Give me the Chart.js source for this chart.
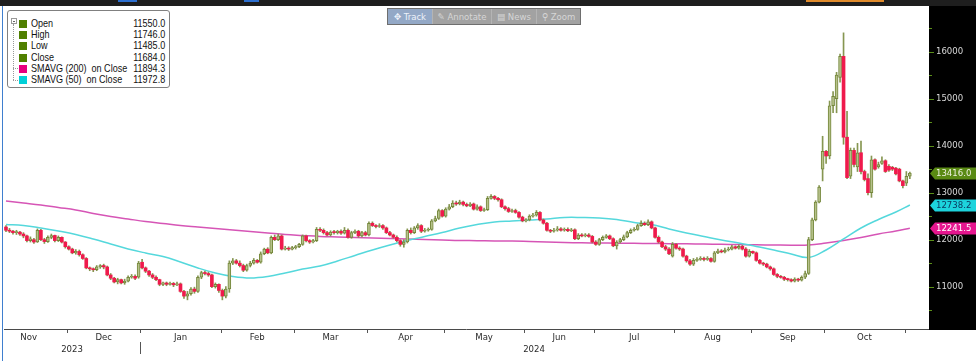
<!DOCTYPE html>
<html><head><meta charset="utf-8">
<script src="https://cdn.jsdelivr.net/npm/chart.js@4.4.1/dist/chart.umd.min.js"></script>
<style>
html,body{margin:0;padding:0;background:#fff;}
#wrap{position:relative;width:976px;height:361px;overflow:hidden;font-family:'Liberation Sans',Arial,sans-serif;}
#c{position:absolute;left:0;top:0;}
#topbar{position:absolute;left:0;top:0;width:976px;height:6px;background:#1e1e1e;}
.mk{position:absolute;top:0;height:2px;}
#tb{position:absolute;left:387px;top:8px;height:15px;display:flex;border:1px solid #6e6e6e;background:#a2a2a2;}
#tb span{display:block;font-family:'DejaVu Sans Condensed',sans-serif;font-size:9.5px;line-height:15px;color:#d6d6d6;text-align:center;border-right:1px solid #b4b4b4;white-space:nowrap;}
#tb span.on{background:#93a8c6;color:#eef2fa;}
#lg{position:absolute;left:7px;top:10px;width:163px;height:78px;border:1px solid #808080;border-radius:3px;background:#fff;box-sizing:border-box;}
#lg .row{position:absolute;left:0;width:161px;height:11px;font-size:10.5px;line-height:11px;color:#111;white-space:pre;}
#lg .sq{position:absolute;left:11px;top:2px;width:8px;height:8px;}
#lg .lb{position:absolute;left:23px;top:0;transform:scaleX(0.86);transform-origin:left center;}
#lg .vl{position:absolute;right:4px;top:0;transform:scaleX(0.86);transform-origin:right center;}
#lg .tbox{position:absolute;left:3px;top:7px;width:4px;height:4px;border:1px solid #999;background:#fff;}
#lg .tbox:after{content:'';position:absolute;left:1px;top:2px;width:2px;height:1px;background:#666;}
#lg .tv{position:absolute;left:5px;top:13px;width:0;height:56px;border-left:1px dotted #999;}
#lg .th{position:absolute;left:5px;width:5px;height:0;border-top:1px dotted #999;}
</style>
</head><body>
<div id="wrap">
<canvas id="c" width="976" height="361"></canvas>
<div id="topbar"></div>
<div class="mk" style="left:118px;width:19px;background:#2c6fd0"></div>
<div class="mk" style="left:244px;width:15px;background:#2c6fd0"></div>
<div class="mk" style="left:806px;width:78px;background:#e08a2a"></div>
<div id="tb"><span class="on" style="width:44px">✥ Track</span><span style="width:58px">✎ Annotate</span><span style="width:44px">▤ News</span><span style="width:43px;border-right:none">⚲ Zoom</span></div>
<div id="lg"></div>
</div>
<script>
// ---------- DATA ----------
const monthNames = ['Nov','Dec','Jan','Feb','Mar','Apr','May','Jun','Jul','Aug','Sep','Oct'];
const monthStarts = [-4,18,39,62,83,104,126,149,169,192,214,235,258]; // trading-day index of first day of each month
const yearNames = ['2023','2024'];
const yTickLabels = [11000,12000,13000,14000,15000,16000];

const opens = [
12270,12200,12180,12150,12160,12120,12080,11980,12000,11950,
12200,12000,11960,12050,12090,11980,12050,11950,11850,11800,
11720,11750,11680,11600,11400,11380,11360,11420,11450,11420,
11250,11180,11100,11150,11080,11120,11200,11220,11200,11520,
11400,11330,11250,11200,11150,11050,11080,11050,11070,11040,
11060,10900,10800,10850,10950,10900,11200,11300,11280,11250,
11000,11050,10920,10800,10950,11500,11550,11500,11450,11350,
11450,11500,11560,11520,11700,11800,11720,12050,12000,12080,
11800,11820,11800,11830,11850,11900,12080,11980,11950,11980,
12220,12200,12150,12100,12160,12150,12180,12140,12200,12050,
12150,12180,12080,12150,12100,12350,12300,12280,12300,12250,
12150,12100,12050,11980,11900,11950,12200,12150,12250,12300,
12180,12200,12220,12400,12450,12620,12500,12650,12700,12780,
12760,12800,12750,12720,12760,12650,12700,12620,12640,12880,
12920,12880,12850,12700,12660,12600,12620,12580,12480,12400,
12420,12500,12520,12580,12420,12350,12200,12180,12200,12230,
12200,12220,12190,12210,12020,12100,12080,12100,12070,11950,
11900,12000,12050,12080,12020,11870,11950,12000,12060,12150,
12200,12220,12300,12350,12320,12380,12250,12050,11950,11850,
11800,11650,11900,11820,11800,11650,11550,11480,11560,11580,
11600,11580,11600,11540,11720,11760,11740,11780,11800,11850,
11820,11860,11800,11650,11750,11720,11560,11500,11480,11420,
11380,11260,11220,11200,11160,11150,11120,11160,11140,11200,
11280,12000,12420,12800,13500,13880,13780,14850,15000,15450,
15900,14180,13350,13900,13550,13850,13450,13300,13000,13700,
13550,13620,13680,13560,13540,13520,13500,13250,13200,13350];
const highs = [
12300,12240,12200,12200,12180,12150,12100,12060,12030,12230,
12220,12030,12080,12120,12100,12080,12060,11960,11870,11820,
11790,11780,11700,11620,11420,11400,11450,11470,11480,11440,
11280,11200,11180,11160,11160,11230,11260,11250,11540,11580,
11420,11350,11280,11230,11160,11100,11100,11100,11090,11100,
11080,10920,10900,10980,10990,11230,11330,11330,11310,11270,
11080,11060,10950,11000,11550,11600,11580,11550,11480,11480,
11540,11600,11580,11740,11820,11830,12080,12100,12120,12100,
11860,11850,11860,11880,11920,12100,12100,12000,12010,12260,
12260,12230,12180,12190,12200,12200,12210,12260,12230,12180,
12210,12200,12180,12180,12380,12380,12320,12340,12320,12270,
12180,12120,12080,12000,12000,12230,12250,12280,12340,12320,
12240,12250,12430,12500,12650,12640,12680,12750,12830,12820,
12840,12820,12780,12790,12780,12740,12720,12670,12920,12960,
12940,12900,12870,12720,12690,12650,12650,12600,12500,12450,
12530,12560,12620,12600,12440,12370,12220,12240,12280,12260,
12250,12250,12240,12230,12130,12130,12130,12130,12090,11980,
12030,12080,12110,12100,12040,11980,12030,12100,12180,12230,
12260,12330,12400,12380,12420,12400,12270,12080,11970,11880,
11830,11940,11920,11850,11820,11670,11580,11600,11620,11640,
11630,11640,11620,11750,11800,11790,11820,11840,11880,11870,
11890,11880,11830,11790,11760,11740,11580,11520,11500,11440,
11400,11280,11240,11220,11180,11170,11190,11180,11230,11330,
12050,12460,12830,13150,14200,13900,14950,15150,15560,15950,
16400,14730,13950,13950,14050,14100,13480,13400,13780,13720,
13650,13760,13700,13600,13560,13540,13520,13270,13450,13440];
const lows = [
12170,12150,12120,12110,12090,12040,11950,11950,11920,11940,
11980,11920,11940,12020,11950,11960,11930,11820,11780,11700,
11690,11650,11580,11380,11340,11320,11340,11390,11380,11230,
11150,11080,11060,11060,11050,11100,11180,11150,11180,11380,
11300,11220,11170,11130,11020,11020,11020,11030,11000,11020,
10880,10750,10720,10820,10860,10880,11170,11250,11220,10980,
10970,10880,10720,10760,10880,11470,11480,11420,11320,11330,
11420,11480,11500,11500,11680,11700,11700,11980,11980,11780,
11780,11770,11780,11800,11830,11880,11950,11920,11930,11960,
12170,12120,12080,12080,12120,12120,12110,12120,12030,12030,
12130,12050,12060,12080,12080,12280,12250,12260,12220,12130,
12080,12030,11950,11860,11840,11930,12120,12130,12220,12150,
12160,12180,12200,12380,12430,12480,12480,12630,12680,12730,
12740,12720,12700,12700,12630,12630,12600,12600,12620,12860,
12850,12820,12680,12630,12580,12580,12560,12460,12380,12380,
12400,12480,12500,12400,12330,12180,12150,12160,12180,12180,
12180,12170,12170,12000,12000,12060,12060,12050,11930,11880,
11880,11980,12030,12000,11850,11800,11930,11980,12040,12130,
12180,12200,12280,12300,12300,12230,12030,11930,11830,11770,
11680,11630,11800,11770,11630,11520,11450,11450,11540,11560,
11550,11560,11520,11520,11700,11720,11720,11760,11780,11800,
11800,11780,11630,11630,11700,11540,11480,11450,11400,11350,
11240,11190,11180,11130,11120,11100,11100,11110,11120,11170,
11260,11980,12400,12780,13250,13620,13720,14700,14700,15350,
14030,13300,13300,13550,13450,13400,13250,12950,12900,13480,
13520,13600,13430,13450,13470,13380,13230,13100,13150,13300];
const closes = [
12200,12180,12150,12160,12120,12080,11980,12020,11950,12200,
12000,11960,12050,12090,11980,12050,11950,11850,11800,11720,
11750,11680,11600,11400,11380,11360,11420,11450,11420,11250,
11180,11100,11150,11080,11120,11200,11220,11180,11500,11400,
11330,11250,11200,11150,11050,11080,11050,11070,11040,11060,
10900,10800,10850,10950,10900,11200,11300,11280,11250,11000,
11050,10920,10800,10950,11500,11550,11500,11450,11350,11450,
11500,11560,11520,11700,11800,11720,12050,12000,12080,11800,
11820,11800,11830,11850,11900,12080,11980,11950,11980,12220,
12200,12150,12100,12160,12150,12180,12140,12200,12050,12150,
12180,12080,12150,12100,12350,12300,12280,12300,12250,12150,
12100,12050,11980,11900,11950,12200,12150,12250,12300,12180,
12200,12220,12400,12450,12620,12500,12650,12700,12780,12760,
12800,12750,12720,12760,12650,12700,12620,12640,12880,12920,
12880,12850,12700,12660,12600,12620,12580,12480,12400,12420,
12500,12520,12580,12420,12350,12200,12180,12200,12230,12200,
12220,12190,12210,12020,12100,12080,12100,12070,11950,11900,
12000,12050,12080,12020,11870,11950,12000,12060,12150,12200,
12220,12300,12350,12320,12380,12250,12050,11950,11850,11800,
11700,11900,11820,11800,11650,11550,11480,11560,11580,11600,
11580,11600,11540,11720,11760,11740,11780,11800,11850,11820,
11860,11800,11650,11750,11720,11560,11500,11480,11420,11380,
11260,11220,11200,11160,11150,11120,11160,11140,11200,11280,
12000,12420,12800,13120,13880,13780,14850,15050,15500,15900,
14180,13320,13900,13600,13850,13450,13280,13000,13700,13500,
13600,13680,13450,13480,13500,13400,13250,13150,13350,13416];

// moving averages read every 5th trading day (last = final day)
const smaIdx = [0,5,10,15,20,25,30,35,40,45,50,55,60,65,70,75,80,85,90,95,100,105,110,115,120,125,130,135,140,145,150,155,160,165,170,175,180,185,190,195,200,205,210,215,220,225,230,235,240,245,250,255,259];
const sma200 = [12823,12781,12738,12685,12632,12558,12494,12440,12387,12345,12302,12270,12238,12206,12174,12143,12111,12089,12068,12057,12047,12036,12026,12015,12004,11994,11983,11979,11972,11972,11962,11951,11940,11934,11930,11926,11923,11919,11915,11913,11908,11902,11896,11891,11887,11883,11887,11930,11983,12047,12121,12185,12241.5];
const sma50 = [12323,12302,12249,12185,12111,12015,11908,11802,11717,11642,11525,11398,11291,11217,11185,11217,11291,11376,11440,11546,11664,11781,11887,11983,12068,12153,12249,12323,12377,12398,12419,12440,12472,12472,12462,12430,12366,12323,12228,12143,12068,11994,11930,11855,11781,11696,11621,11781,12015,12249,12430,12589,12738.2];

const legendRows = [
  {label:'Open', value:'11550.0', color:'#4f7f00'},
  {label:'High', value:'11746.0', color:'#4f7f00'},
  {label:'Low', value:'11485.0', color:'#4f7f00'},
  {label:'Close', value:'11684.0', color:'#4f7f00'},
  {label:'SMAVG (200)  on Close', value:'11894.3', color:'#e6007e'},
  {label:'SMAVG (50)  on Close', value:'11972.8', color:'#00d0d8'}
];

// ---------- LEGEND (HTML) ----------
(function(){
  const lg = document.getElementById('lg');
  let h = '<div class="tbox"></div><div class="tv"></div>';
  legendRows.forEach((r,k)=>{
    const top = 7 + k*11.2;
    h += '<div class="row" style="top:'+top+'px"><div class="sq" style="background:'+r.color+'"></div><div class="lb">'+r.label+'</div><div class="vl">'+r.value+'</div></div>';
  });
  h += '<div class="th" style="top:57px"></div><div class="th" style="top:69px"></div>';
  lg.innerHTML = h;
})();

// ---------- CHART ----------
const FONT = "'DejaVu Sans Condensed','DejaVu Sans',sans-serif";
const up = closes.map((c,i)=> c >= opens[i]);
const wickData = closes.map((c,i)=>({x:i, y:[lows[i], highs[i]]}));
const bodyData = closes.map((c,i)=>({x:i, y:[opens[i], c]}));
const s200Data = smaIdx.map((x,k)=>({x:x, y:sma200[k]}));
const s50Data = smaIdx.map((x,k)=>({x:x, y:sma50[k]}));
const monthCenters = monthNames.map((m,k)=> (monthStarts[k] + monthStarts[k+1]) / 2 - 0.5);

const decor = {
  id:'decor',
  beforeDraw(chart){
    const {ctx, chartArea:a, width} = chart;
    ctx.save();
    ctx.fillStyle = '#000';
    ctx.fillRect(a.right + 1, 0, width - a.right - 1, a.bottom + 1);
    ctx.restore();
  },
  afterDraw(chart){
    const {ctx, chartArea:a, width} = chart;
    const xs = chart.scales.x, ys = chart.scales.y;
    ctx.save();
    // left blue frame line
    ctx.fillStyle = '#3f7fcf';
    ctx.fillRect(2, 6, 1, 355);
    // month boundary ticks
    ctx.fillStyle = '#555';
    for (let k = 1; k < monthStarts.length; k++) {
      const px = Math.round(xs.getPixelForValue(monthStarts[k] - 0.5));
      ctx.fillRect(px, Math.round(a.bottom) + 1, 1, 3);
    }
    // year separator + labels
    const janPx = Math.round(xs.getPixelForValue(monthStarts[2] - 0.5));
    ctx.fillRect(janPx, 342, 1, 12);
    ctx.fillStyle = '#2a2a2a';
    ctx.font = '9.5px ' + FONT;
    ctx.textAlign = 'center';
    ctx.textBaseline = 'middle';
    ctx.fillText(yearNames[0], (a.left + janPx) / 2, 350);
    ctx.fillText(yearNames[1], (janPx + a.right) / 2, 350);
    // y-axis tick marks (major + minor)
    ctx.fillStyle = '#5b8f18';
    for (let v = 10500; v <= 16500; v += 500) {
      const py = Math.round(ys.getPixelForValue(v));
      const len = (v % 1000 === 0) ? 5 : 3;
      ctx.fillRect(a.right + 1, py, len, 1);
    }
    // last-value tags
    const tag = (val, bg, fg) => {
      const py = Math.round(ys.getPixelForValue(val)) + 0.5;
      ctx.fillStyle = bg;
      ctx.beginPath();
      ctx.moveTo(a.right + 2, py);
      ctx.lineTo(a.right + 7, py - 6);
      ctx.lineTo(width, py - 6);
      ctx.lineTo(width, py + 6);
      ctx.lineTo(a.right + 7, py + 6);
      ctx.closePath();
      ctx.fill();
      ctx.fillStyle = fg;
      ctx.textAlign = 'left';
      ctx.textBaseline = 'middle';
      ctx.font = '9.5px ' + FONT;
      ctx.fillText(val.toFixed(1), a.right + 8, py + 0.5);
    };
    tag(closes[closes.length - 1], '#5a8a14', '#eef2e0');
    tag(sma50[sma50.length - 1], '#1dd3dc', '#0a3a60');
    tag(sma200[sma200.length - 1], '#e5168f', '#ffffff');
    ctx.restore();
  }
};

new Chart(document.getElementById('c'), {
  type: 'bar',
  data: {
    datasets: [
      {type:'line', label:'SMAVG (200)', data:s200Data, borderColor:'#d655b6', borderWidth:1.5, pointRadius:0, tension:0.4, order:4},
      {type:'line', label:'SMAVG (50)', data:s50Data, borderColor:'#55d8dc', borderWidth:1.5, pointRadius:0, tension:0.4, order:3},
      {type:'bar', label:'Range', data:wickData, backgroundColor:'#869651', barThickness:1, grouped:false, order:2},
      {type:'bar', label:'Body', data:bodyData,
        backgroundColor: up.map(u => u ? '#b6c18b' : '#ef1a4c'),
        borderColor: up.map(u => u ? '#74873a' : '#ef1a4c'),
        borderWidth: up.map(u => u ? 1 : 0),
        borderSkipped:false, barThickness:3, grouped:false, minBarLength:1, order:1}
    ]
  },
  options: {
    responsive:false, animation:false, devicePixelRatio:1,
    layout:{padding:{left:4, top:7, right:0, bottom:0}},
    plugins:{legend:{display:false}, tooltip:{enabled:false}},
    scales:{
      x:{type:'linear', min:-0.57, max:264.2, offset:false,
        afterBuildTicks: s => { s.ticks = monthCenters.map(v => ({value:v})); },
        ticks:{autoSkip:false, maxRotation:0, color:'#2a2a2a', font:{family:FONT, size:9.5}, padding:3,
          callback:(v, i) => monthNames[i]},
        grid:{display:false, drawTicks:false},
        border:{display:true, color:'#4a4a4a', width:1},
        afterFit: s => { s.height = 32; }
      },
      y:{type:'linear', position:'right', min:10100, max:16950,
        afterBuildTicks: s => { s.ticks = yTickLabels.map(v => ({value:v})); },
        ticks:{color:'#d8d8d8', font:{family:FONT, size:9.5}, padding:0, callback:v => String(v)},
        grid:{display:true, drawOnChartArea:false, drawTicks:true, tickLength:8, color:'rgba(0,0,0,0)'},
        border:{display:false},
        afterFit: s => { s.width = 48; }
      }
    }
  },
  plugins:[decor]
});
</script>
</body></html>
